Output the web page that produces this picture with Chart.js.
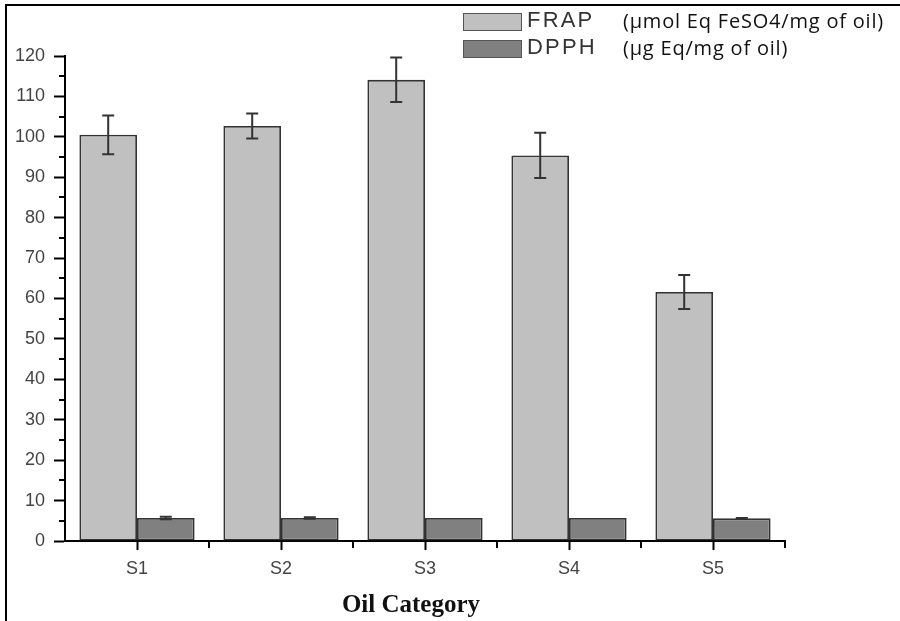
<!DOCTYPE html>
<html lang="en">
<head>
  <meta charset="UTF-8">
  <title>FRAP / DPPH by oil category</title>
  <script src="https://cdn.jsdelivr.net/npm/chart.js"></script>
  <style>
    body { margin: 0; background: #fff; }
    #wrap { position: relative; width: 900px; height: 621px; overflow: hidden; }
    #frame {
      position: absolute; left: 5px; top: 4px; width: 900px; height: 630px;
      border-top: 2px solid #000; border-left: 2px solid #000;
    }
    .box { position: absolute; left: 463px; width: 57px; height: 16px; border: 1.5px solid #555; }
    .name { position: absolute; left: 527px; font: 22px "Liberation Sans", Arial, sans-serif; letter-spacing: 2.2px; color: #333; }
    .unit { position: absolute; left: 623px; font: 20px "Open Sans", sans-serif; letter-spacing: 0.8px; color: #111; }
    #xtitle {
      position: absolute; left: 311px; top: 590px; width: 200px; text-align: center;
      font: bold 25px "Liberation Serif", "Times New Roman", serif; color: #111;
    }
  </style>
</head>
<body>
<div id="wrap">
  <canvas id="chart" width="900" height="621"></canvas>
  <div id="frame"></div>

  <!-- legend -->
  <div class="box" style="top:13px; background:#c0c0c0;"></div>
  <div class="name" style="top:7px;">FRAP</div>
  <div class="unit" style="top:7px;">(µmol Eq FeSO4/mg of oil)</div>
  <div class="box" style="top:40px; background:#808080;"></div>
  <div class="name" style="top:34px;">DPPH</div>
  <div class="unit" style="top:34px;">(µg Eq/mg of oil)</div>

  <div id="xtitle">Oil Category</div>
</div>

<script>
// data
const categories = ['S1', 'S2', 'S3', 'S4', 'S5'];
const frapValues = [100.5, 102.7, 114.1, 95.4, 61.6];
const frapErrors = [4.8, 3.1, 5.5, 5.6, 4.2];
const dpphValues = [5.7, 5.7, 5.7, 5.7, 5.6];
const dpphErrors = [0.3, 0.2, 0, 0, 0.1];
const yMin = 0, yMax = 120, yStep = 10;

const errorsByDataset = [frapErrors, dpphErrors];

// error bars + minor ticks, drawn on top of the bars
const extras = {
  id: 'extras',
  afterDatasetsDraw(chart) {
    const ctx = chart.ctx;
    const y = chart.scales.y;
    ctx.save();
    ctx.strokeStyle = '#333';
    ctx.lineWidth = 2;
    chart.data.datasets.forEach((ds, di) => {
      const meta = chart.getDatasetMeta(di);
      meta.data.forEach((bar, i) => {
        const err = errorsByDataset[di][i];
        if (!err) return;
        const top = y.getPixelForValue(ds.data[i] + err);
        const bot = y.getPixelForValue(ds.data[i] - err);
        ctx.beginPath();
        ctx.moveTo(bar.x, top); ctx.lineTo(bar.x, bot);
        ctx.moveTo(bar.x - 6, top); ctx.lineTo(bar.x + 6, top);
        ctx.moveTo(bar.x - 6, bot); ctx.lineTo(bar.x + 6, bot);
        ctx.stroke();
      });
    });
    ctx.restore();
  },
  afterDraw(chart) {
    const ctx = chart.ctx;
    const x = chart.scales.x, y = chart.scales.y;
    const area = chart.chartArea;
    ctx.save();
    ctx.strokeStyle = '#000';
    ctx.lineWidth = 2;
    ctx.beginPath();
    // minor y ticks halfway between labels
    for (let v = yMin + yStep / 2; v < yMax; v += yStep) {
      const py = Math.round(y.getPixelForValue(v));
      ctx.moveTo(area.left - 6, py); ctx.lineTo(area.left, py);
    }
    // minor x ticks on the category boundaries
    for (let i = 0; i < categories.length; i++) {
      const px = Math.round(x.getPixelForValue(i + 0.5));
      ctx.moveTo(px, area.bottom); ctx.lineTo(px, area.bottom + 7);
    }
    ctx.stroke();
    ctx.restore();
  }
};

new Chart(document.getElementById('chart'), {
  type: 'bar',
  data: {
    labels: categories,
    datasets: [
      { label: 'FRAP', data: frapValues, backgroundColor: '#c0c0c0', borderColor: '#333', borderWidth: 1.8, borderSkipped: false },
      { label: 'DPPH', data: dpphValues, backgroundColor: '#808080', borderColor: '#333', borderWidth: 1.8, borderSkipped: false }
    ]
  },
  options: {
    responsive: false,
    animation: false,
    layout: { padding: { left: 0, right: 115, top: 56, bottom: 0 } },
    datasets: { bar: { categoryPercentage: 0.8, barPercentage: 1.0 } },
    plugins: { legend: { display: false }, tooltip: { enabled: false } },
    scales: {
      x: {
        offset: true,
        grid: { offset: false, drawOnChartArea: false, tickLength: 9, tickWidth: 2, tickColor: '#000' },
        border: { color: '#000', width: 2 },
        ticks: { padding: 8, color: '#444', font: { family: 'Liberation Sans', size: 18 } },
        afterFit(scale) { scale.height = 80; }
      },
      y: {
        min: yMin, max: yMax,
        grid: { drawOnChartArea: false, tickLength: 11, tickWidth: 2, tickColor: '#000' },
        border: { color: '#000', width: 2 },
        ticks: { stepSize: yStep, padding: 9, color: '#444', font: { family: 'Liberation Sans', size: 18 } },
        afterFit(scale) { scale.width = 65; }
      }
    }
  },
  plugins: [extras]
});
</script>
</body>
</html>
